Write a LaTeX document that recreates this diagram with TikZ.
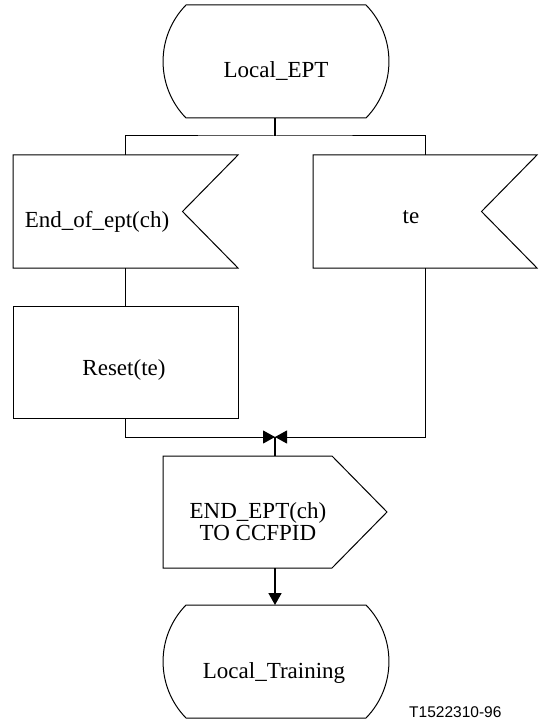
\documentclass[tikz,border=0pt]{standalone}
\usepackage{fontspec}
\setmainfont{Liberation Serif}
\newfontfamily\labelfont{Liberation Sans}
\usetikzlibrary{calc,arrows.meta}
\tikzset{
  shapenode/.style={draw=none,inner sep=0pt,outer sep=0pt},
  outline/.style={draw=black,line width=1pt,line join=miter},
  txt/.style={inner sep=0pt,anchor=base,font=\fontsize{23}{26}\selectfont},
  thin/.style={draw=black,line width=1pt},
  thick/.style={draw=black,line width=1.7pt},
  tip/.style={-{Triangle[length=12pt,width=13pt]}}
}
\newcommand\stateoutline[1]{%
  \draw[outline] ($(#1.north west)+(23,0)$) -- ($(#1.north east)+(-23,0)$)
    .. controls +(30.6,31.4) and +(30.6,-31.4) .. ($(#1.south east)+(-23,0)$)
    -- ($(#1.south west)+(23,0)$)
    .. controls +(-30.6,-31.4) and +(-30.6,31.4) .. ($(#1.north west)+(23,0)$) -- cycle;}
\newcommand\inputoutline[1]{%
  \draw[outline] (#1.north west) -- (#1.north east) -- ($(#1.east)+(-55.5,0)$)
    -- (#1.south east) -- (#1.south west) -- cycle;}
\newcommand\outputoutline[1]{%
  \draw[outline] (#1.north west) -- ($(#1.north east)+(-55,0)$) -- (#1.east)
    -- ($(#1.south east)+(-55,0)$) -- (#1.south west) -- cycle;}
\begin{document}
\begin{tikzpicture}[x=1pt,y=-1pt]
\useasboundingbox (0,0) rectangle (538,722);
% shapes
\node[shapenode,minimum width=226pt,minimum height=113pt] (ept) at (276,61.5) {};
\stateoutline{ept}
\node[txt] (eptt) at (276,78) {Local\_EPT};

\node[shapenode,minimum width=225pt,minimum height=113pt] (eoe) at (125.5,211.5) {};
\inputoutline{eoe}
\node[txt] (eoet) at (97,227) {End\_of\_ept(ch)};

\node[shapenode,minimum width=224pt,minimum height=113pt] (te) at (425,211.5) {};
\inputoutline{te}
\node[txt] (tet) at (411,223) {te};

\node[shapenode,minimum width=225pt,minimum height=112pt] (reset) at (125.5,362) {};
\draw[outline] (reset.north west) rectangle (reset.south east);
\node[txt] (resett) at (124,375) {Reset(te)};

\node[shapenode,minimum width=224pt,minimum height=112pt] (out) at (275,512) {};
\outputoutline{out}
\node[txt] (outt1) at (258,518) {END\_EPT(ch)};
\node[txt] (outt2) at (258,540) {TO CCFPID};

\node[shapenode,minimum width=226pt,minimum height=113pt] (train) at (276,661.5) {};
\stateoutline{train}
\node[txt] (traint) at (274,678) {Local\_Training};

\node[inner sep=0pt,anchor=base west,font=\labelfont\fontsize{15.5}{18}\selectfont] (ref) at (409,717.5) {T1522310-96};

% connectors
\coordinate (br) at (275,136);
\coordinate (merge) at (275,437);
\draw[thick] (ept.south -| br) -- (br);
\draw[thin] (eoe.north) |- (br) -| (te.north);
\draw[thin] (eoe.south) -- (reset.north);
\draw[thin,tip] (reset.south) |- (merge);
\draw[thin,tip] (te.south) |- (merge);
\draw[thick] (merge) -- (out.north);
\draw[thick,tip] (out.south) -- (train.north -| out.south);
\end{tikzpicture}
\end{document}
